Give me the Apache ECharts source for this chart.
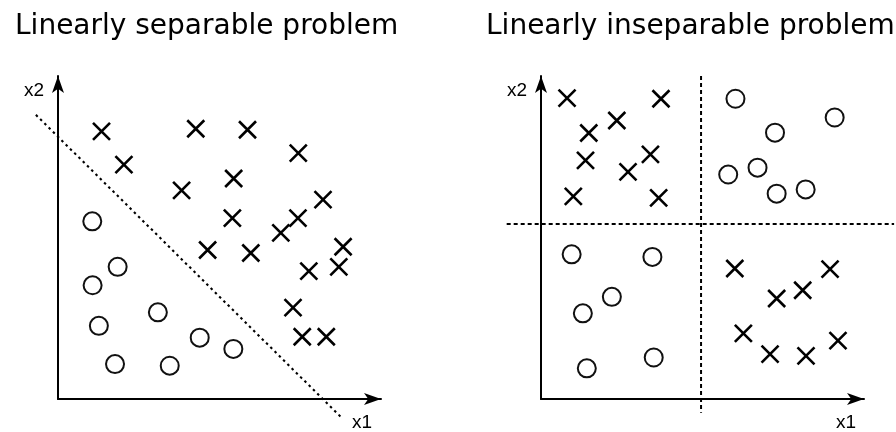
<!DOCTYPE html>
<html>
<head>
<meta charset="utf-8">
<script src="https://cdn.jsdelivr.net/npm/echarts@6/dist/echarts.min.js"></script>
<style>
  html, body { margin: 0; padding: 0; background: #fff; }
  #main { width: 896px; height: 432px; }
</style>
</head>
<body>
<div id="main"></div>
<script>
// panel titles
const titleLeft = 'Linearly separable problem';
const titleRight = 'Linearly inseparable problem';

// left panel: class X and class O (x1, x2)
const leftCrosses = [
  [1.32, 8.12], [2.0, 7.11], [4.18, 8.20], [5.75, 8.17], [7.29, 7.46],
  [3.75, 6.33], [5.33, 6.69], [5.29, 5.49], [8.04, 6.05], [7.28, 5.49],
  [6.76, 5.04], [4.54, 4.52], [5.85, 4.43], [8.65, 4.62], [7.61, 3.88],
  [8.52, 4.01], [7.13, 2.77], [7.41, 1.89], [8.14, 1.89]
];
const leftCircles = [
  [1.04, 5.39], [1.81, 4.01], [1.05, 3.45], [3.03, 2.63], [1.24, 2.22],
  [4.30, 1.86], [5.32, 1.52], [1.73, 1.06], [3.39, 1.01]
];
// separating line x1 + x2 = 8
const separator = [[-0.67, 8.61], [8.61, -0.58]];

// right panel (XOR like)
const rightCrosses = [
  [0.79, 9.13], [3.64, 9.11], [2.30, 8.45], [1.45, 8.07], [1.35, 7.24],
  [3.32, 7.42], [2.64, 6.89], [0.98, 6.15], [3.57, 6.10],
  [5.88, 3.96], [8.77, 3.94], [7.94, 3.30], [7.15, 3.05], [6.14, 1.99],
  [9.01, 1.77], [6.95, 1.36], [8.04, 1.31]
];
const rightCircles = [
  [5.90, 9.11], [8.91, 8.54], [7.10, 8.08], [6.57, 7.02], [5.68, 6.81],
  [7.15, 6.23], [8.03, 6.36],
  [0.93, 4.39], [3.38, 4.31], [2.15, 3.10], [1.27, 2.60], [3.42, 1.26], [1.39, 0.93]
];
const vSplit = [[4.85, 9.79], [4.85, -0.42]];
const hSplit = [[-1.04, 5.30], [10.7, 5.30]];

const AXIS_MAX = 9.8;
const PX = 33; // pixels per unit
const crossSymbol = 'path://M0,0L16,16M16,0L0,16';

var chart = echarts.init(document.getElementById('main'));

function makeX(gridIndex, gap) {
    return {
        gridIndex: gridIndex, type: 'value', min: 0, max: AXIS_MAX,
        name: 'x1', nameLocation: 'end', nameGap: gap,
        nameTextStyle: {
            fontFamily: 'Liberation Sans', fontSize: 19, color: '#000',
            align: 'left', verticalAlign: 'top', padding: [14, 0, 0, 0]
        },
        axisLine: { show: true, symbol: ['none', 'arrow'], symbolSize: [9, 17], lineStyle: { color: '#000', width: 2 } },
        axisTick: { show: false }, axisLabel: { show: false }, splitLine: { show: false }
    };
}
function makeY(gridIndex) {
    return {
        gridIndex: gridIndex, type: 'value', min: 0, max: AXIS_MAX,
        name: 'x2', nameLocation: 'end', nameGap: -15,
        nameTextStyle: {
            fontFamily: 'Liberation Sans', fontSize: 19, color: '#000',
            align: 'right', verticalAlign: 'middle', padding: [0, 14, 0, 0]
        },
        axisLine: { show: true, symbol: ['none', 'arrow'], symbolSize: [9, 17], lineStyle: { color: '#000', width: 2 } },
        axisTick: { show: false }, axisLabel: { show: false }, splitLine: { show: false }
    };
}
// invisible axes with the same scale but a wider range, for the guide lines
function hiddenAxis(gridIndex, min, max) {
    return { gridIndex: gridIndex, type: 'value', min: min, max: max, show: false };
}

const crossStyle = { color: 'none', borderColor: '#000', borderWidth: 2.6, opacity: 1 };
const circleStyle = { color: 'none', borderColor: '#111', borderWidth: 2, opacity: 1 };

let option = {
    animation: false,
    backgroundColor: '#fff',
    title: [
        { text: titleLeft, left: 10, top: 8,
          textStyle: { fontFamily: 'DejaVu Sans', fontSize: 28, fontWeight: 'normal', color: '#000' } },
        { text: titleRight, left: 481, top: 8,
          textStyle: { fontFamily: 'DejaVu Sans', fontSize: 28, fontWeight: 'normal', color: '#000' } }
    ],
    grid: [
        { left: 58, top: 76, width: 323, height: 323 },
        { left: 541, top: 76, width: 323, height: 323 },
        { left: 58 - PX, top: 399 - 11 * PX, width: 12 * PX, height: 12 * PX },
        { left: 541 - 1.2 * PX, top: 399 - 11 * PX, width: 11.9 * PX, height: 12 * PX }
    ],
    xAxis: [makeX(0, -29), makeX(1, -28), hiddenAxis(2, -1, 11), hiddenAxis(3, -1.2, 10.7)],
    yAxis: [makeY(0), makeY(1), hiddenAxis(2, -1, 11), hiddenAxis(3, -1, 11)],
    series: [
        { type: 'line', xAxisIndex: 2, yAxisIndex: 2, data: separator, symbol: 'none', clip: false,
          lineStyle: { color: '#000', width: 2.1, type: [2.5, 3.5] } },
        { type: 'scatter', xAxisIndex: 0, yAxisIndex: 0, data: leftCrosses,
          symbol: crossSymbol, symbolSize: 17, itemStyle: crossStyle },
        { type: 'scatter', xAxisIndex: 0, yAxisIndex: 0, data: leftCircles,
          symbol: 'circle', symbolSize: 18, itemStyle: circleStyle },

        { type: 'line', xAxisIndex: 3, yAxisIndex: 3, data: vSplit, symbol: 'none', clip: false,
          lineStyle: { color: '#000', width: 2, type: [4, 3] } },
        { type: 'line', xAxisIndex: 3, yAxisIndex: 3, data: hSplit, symbol: 'none', clip: false,
          lineStyle: { color: '#000', width: 2, type: [4, 3] } },
        { type: 'scatter', xAxisIndex: 1, yAxisIndex: 1, data: rightCrosses,
          symbol: crossSymbol, symbolSize: 17, itemStyle: crossStyle },
        { type: 'scatter', xAxisIndex: 1, yAxisIndex: 1, data: rightCircles,
          symbol: 'circle', symbolSize: 18, itemStyle: circleStyle }
    ]
};

chart.setOption(option);
</script>
</body>
</html>
